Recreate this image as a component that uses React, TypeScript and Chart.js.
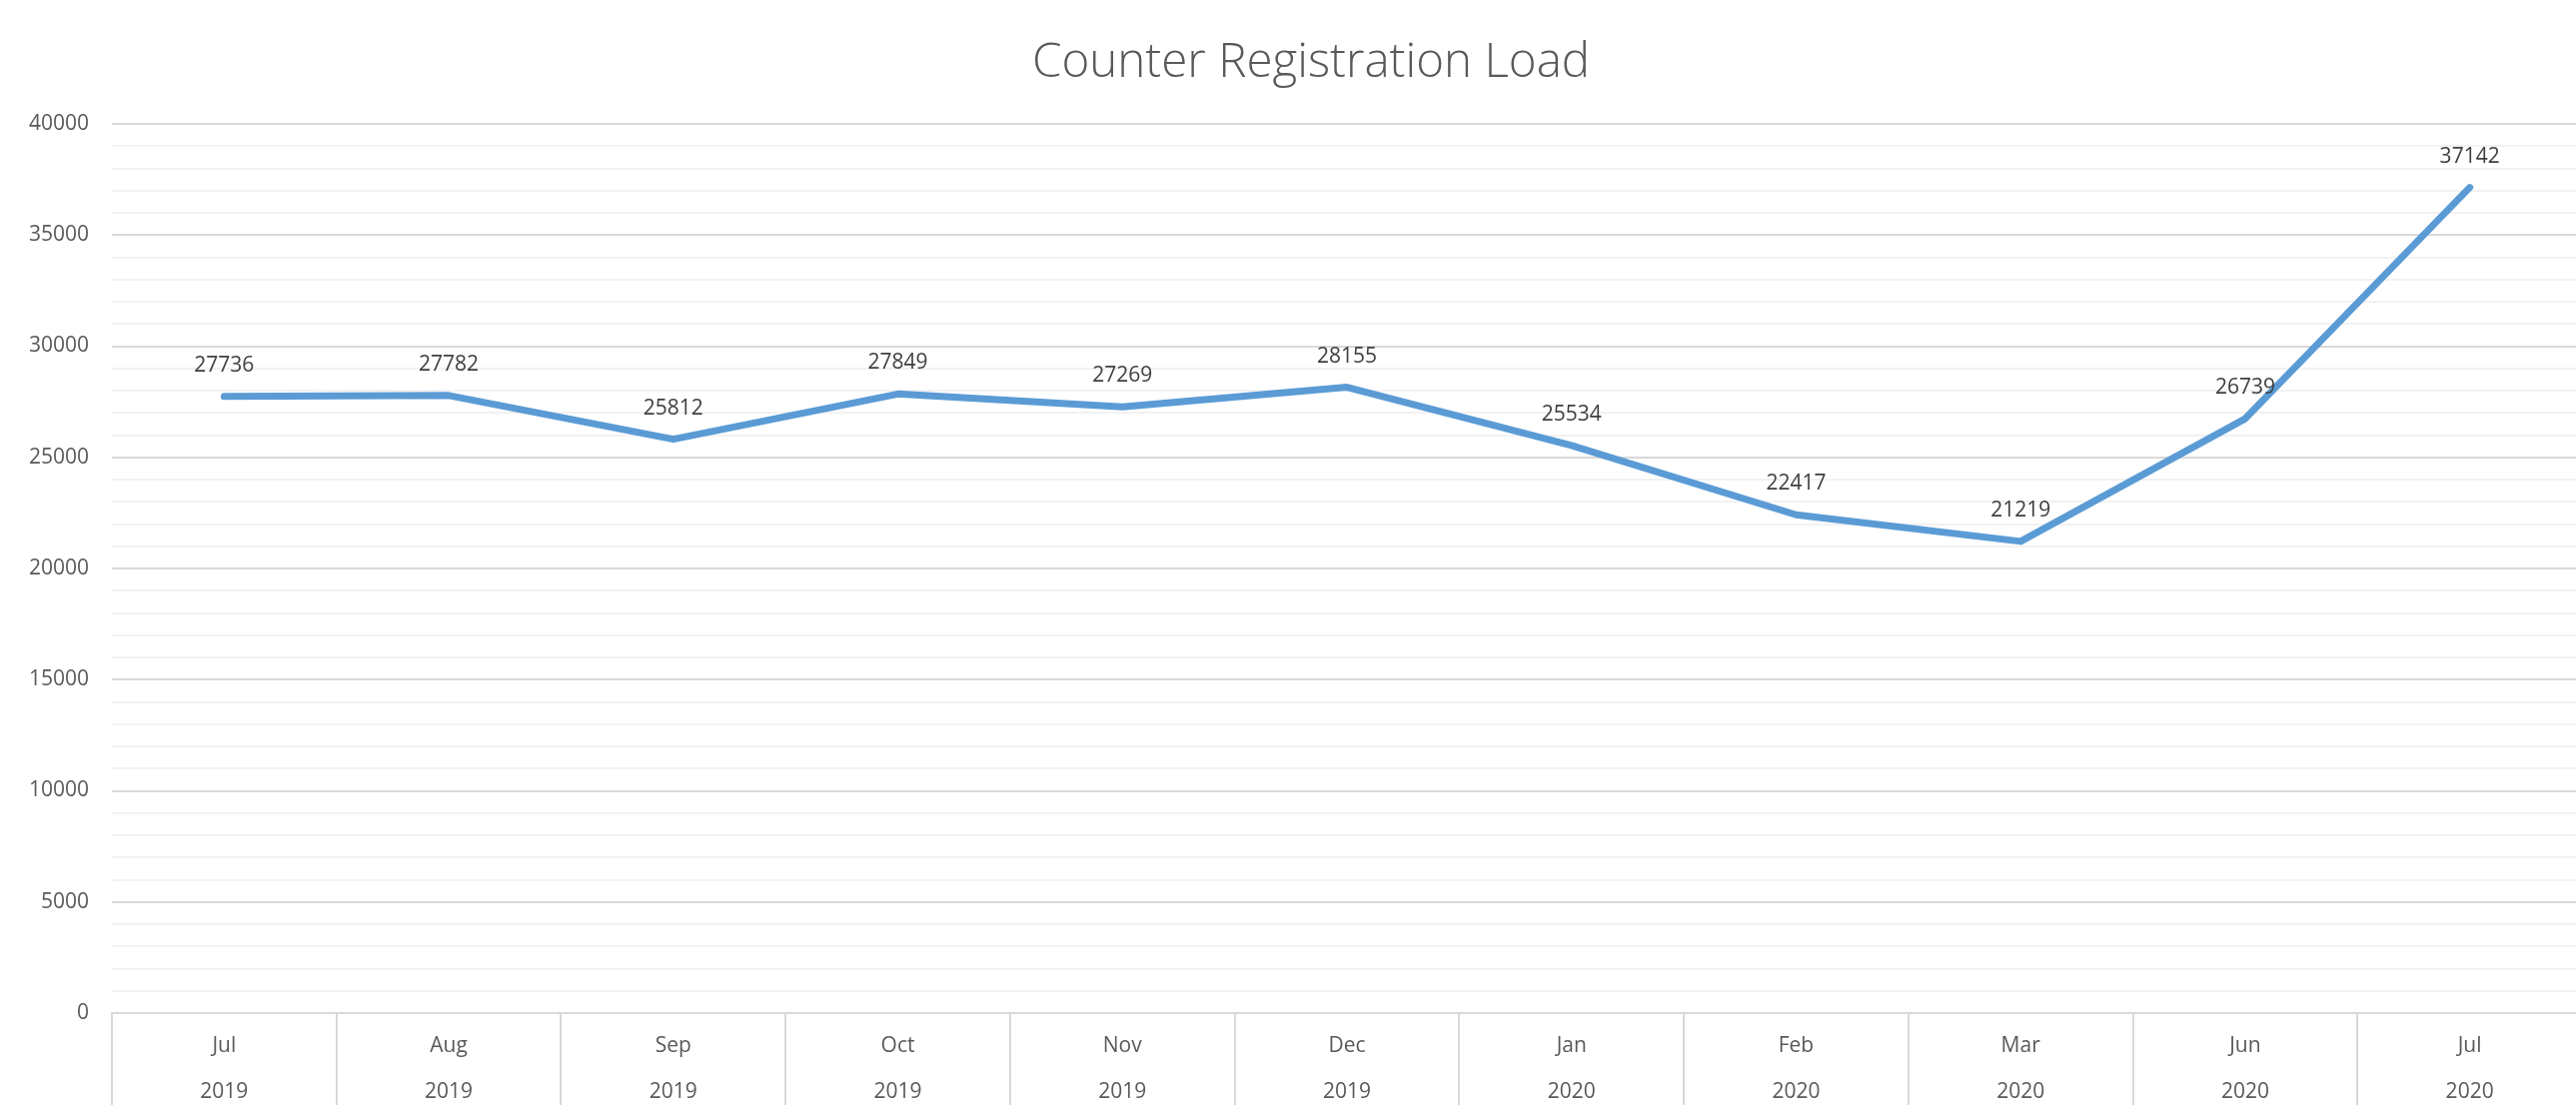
import React, { useEffect, useRef } from "react";
import { Chart, registerables } from "chart.js";

Chart.register(...registerables);

const TITLE = "Counter Registration Load";
const MONTHS = ["Jul", "Aug", "Sep", "Oct", "Nov", "Dec", "Jan", "Feb", "Mar", "Jun", "Jul"];
const YEARS = ["2019", "2019", "2019", "2019", "2019", "2019", "2020", "2020", "2020", "2020", "2020"];
const VALUES = [27736, 27782, 25812, 27849, 27269, 28155, 25534, 22417, 21219, 26739, 37142];
const Y_MIN = 0;
const Y_MAX = 40000;
const Y_MAJOR = 5000;
const Y_MINOR = 1000;

const FONT = "'Open Sans', 'Noto Sans', sans-serif";

const dataLabelPlugin = {
  id: "dataLabels",
  afterDatasetsDraw(chart: any) {
    const ctx = chart.ctx;
    const meta = chart.getDatasetMeta(0);
    ctx.save();
    ctx.font = `21px ${FONT}`;
    ctx.fillStyle = "#404040";
    ctx.textAlign = "center";
    ctx.textBaseline = "alphabetic";
    meta.data.forEach((pt: any, i: number) => {
      ctx.fillText(String(VALUES[i]), pt.x, pt.y - 25);
    });
    ctx.restore();
  },
};

const titlePlugin = {
  id: "centeredTitle",
  afterDraw(chart: any) {
    const ctx = chart.ctx;
    ctx.save();
    ctx.font = `300 47.5px ${FONT}`;
    ctx.fillStyle = "#595959";
    ctx.textAlign = "center";
    ctx.textBaseline = "alphabetic";
    ctx.fillText(TITLE, chart.width / 2, 77);
    ctx.restore();
  },
};

export default function App() {
  const canvasRef = useRef<HTMLCanvasElement | null>(null);

  useEffect(() => {
    if (!canvasRef.current) return;
    const chart = new Chart(canvasRef.current, {
      type: "line",
      data: {
        labels: MONTHS.map((m, i) => [m, YEARS[i]]),
        datasets: [
          {
            data: VALUES,
            borderColor: "#5B9BD5",
            backgroundColor: "#5B9BD5",
            borderWidth: 7,
            pointRadius: 0,
            pointHoverRadius: 0,
            tension: 0,
            borderCapStyle: "round",
            borderJoinStyle: "round",
            fill: false,
          },
        ],
      },
      options: {
        responsive: false,
        animation: false,
        devicePixelRatio: 1,
        layout: { padding: { left: 0, right: 40, top: 124, bottom: 0 } },
        plugins: {
          legend: { display: false },
          tooltip: { enabled: false },
          title: { display: false },
        },
        scales: {
          x: {
            type: "category",
            offset: true,
            grid: {
              offset: true,
              drawOnChartArea: false,
              drawTicks: true,
              tickLength: 100,
              color: "#D9D9D9",
              lineWidth: 2,
            },
            border: { display: true, color: "#D9D9D9", width: 2 },
            ticks: {
              autoSkip: false,
              maxRotation: 0,
              minRotation: 0,
              padding: -90,
              color: "#595959",
              font: { family: FONT, size: 21, lineHeight: 46 / 21 },
            },
            afterFit: (scale: any) => {
              scale.height = 92;
            },
          },
          y: {
            min: Y_MIN,
            max: Y_MAX,
            grid: {
              drawTicks: false,
              color: (c: any) => (c.tick && c.tick.value % Y_MAJOR === 0 ? "#D9D9D9" : "#F2F2F2"),
              lineWidth: 2,
            },
            border: { display: false },
            ticks: {
              stepSize: Y_MINOR,
              autoSkip: false,
              padding: 23,
              color: "#595959",
              font: { family: FONT, size: 21 },
              callback: (v: any) => (Number(v) % Y_MAJOR === 0 ? String(v) : ""),
            },
            afterFit: (scale: any) => {
              scale.width = 112;
            },
          },
        },
      },
      plugins: [dataLabelPlugin, titlePlugin],
    } as any);
    return () => chart.destroy();
  }, []);

  return (
    <div
      style={{
        position: "fixed",
        left: 0,
        top: 0,
        width: 2578,
        height: 1106,
        overflow: "hidden",
        background: "#ffffff",
      }}
    >
      <canvas ref={canvasRef} width={2624} height={1106} style={{ display: "block" }} />
    </div>
  );
}
